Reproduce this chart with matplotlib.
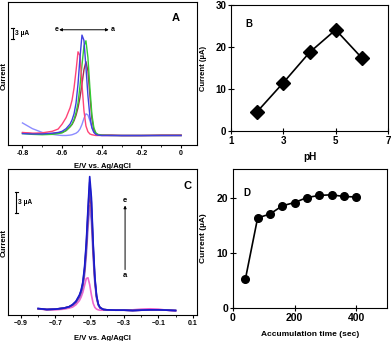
import matplotlib
matplotlib.use("Agg")
import matplotlib.pyplot as plt
from matplotlib.ticker import MultipleLocator

plt.rcParams['font.family'] = ['Liberation Sans', 'DejaVu Sans']
plt.rcParams['font.weight'] = 'bold'
plt.rcParams['axes.labelweight'] = 'bold'

# ---- panel A: DPV curves at different pH (uA) ----
E_a = [-0.80, -0.75, -0.70, -0.65, -0.62, -0.60, -0.58, -0.56, -0.55, -0.54,
       -0.53, -0.52, -0.51, -0.50, -0.49, -0.48, -0.47, -0.46, -0.45, -0.44,
       -0.43, -0.42, -0.40, -0.35, -0.30, -0.20, -0.10, 0.00]
a_curve_a = [5.8, 4.3, 3.3, 2.8, 2.6, 2.5, 2.5, 2.6, 2.7, 2.9,
             3.1, 3.5, 4.2, 5.4, 7.0, 8.2, 7.9, 6.4, 4.7, 3.5,
             2.9, 2.6, 2.5, 2.5, 2.4, 2.4, 2.5, 2.5]
a_curve_b = [3.2, 3.0, 2.9, 3.0, 3.2, 3.3, 3.8, 4.8, 5.4, 6.4,
             7.8, 9.8, 12.5, 16.0, 19.8, 21.9, 19.5, 13.0, 7.0, 4.0,
             3.0, 2.7, 2.6, 2.6, 2.5, 2.5, 2.6, 2.6]
a_curve_c = [3.0, 2.8, 2.7, 2.8, 3.0, 3.2, 3.8, 4.8, 5.5, 6.7,
             8.5, 11.0, 15.5, 21.0, 26.0, 27.4, 23.0, 15.0, 8.0, 4.5,
             3.2, 2.8, 2.6, 2.5, 2.5, 2.5, 2.5, 2.5]
a_curve_d = [3.3, 3.1, 3.2, 3.6, 4.2, 5.5, 7.2, 9.8, 11.8, 15.0,
             19.5, 24.5, 23.5, 16.0, 9.0, 5.0, 3.5, 2.9, 2.7, 2.6,
             2.5, 2.5, 2.5, 2.5, 2.5, 2.5, 2.5, 2.5]
a_curve_e = [3.0, 2.9, 2.9, 3.1, 3.3, 3.6, 4.3, 5.5, 6.6, 8.2,
             11.0, 16.0, 23.0, 28.9, 27.5, 20.5, 13.0, 7.5, 4.5, 3.3,
             2.8, 2.6, 2.5, 2.5, 2.5, 2.5, 2.5, 2.5]
a_colors = ['#8c8cff', '#a0304a', '#33cc33', '#ff4477', '#4040e0']

# ---- panel B: peak current vs pH ----
ph = [2, 3, 4, 5, 6]
ph_current = [4.6, 11.5, 18.7, 24.1, 17.4]

# ---- panel C: DPV curves at different accumulation times (uA) ----
E_c = [-0.80, -0.75, -0.70, -0.65, -0.62, -0.60, -0.58, -0.56, -0.55, -0.54,
       -0.53, -0.52, -0.51, -0.50, -0.49, -0.48, -0.47, -0.46, -0.45, -0.44,
       -0.42, -0.40, -0.35, -0.30, -0.25, -0.20, -0.15, -0.10, -0.05, 0.00]
c_curve_a = [0.9, 0.75, 0.75, 0.85, 1.0, 1.15, 1.5, 2.1, 2.6, 3.3,
             4.3, 5.3, 5.4, 4.4, 2.9, 1.7, 1.1, 0.85, 0.75, 0.7,
             0.7, 0.7, 0.7, 0.72, 0.75, 0.85, 0.9, 0.85, 0.7, 0.6]
c_curve_b = [0.9, 0.8, 0.85, 1.0, 1.15, 1.4, 1.8, 2.5, 3.1, 4.0,
             5.8, 8.6, 12.6, 15.9, 13.5, 8.4, 4.5, 2.4, 1.4, 1.0,
             0.8, 0.75, 0.7, 0.7, 0.65, 0.7, 0.75, 0.75, 0.7, 0.65]
c_curve_c = [0.9, 0.8, 0.85, 1.0, 1.2, 1.45, 1.9, 2.7, 3.4, 4.4,
             6.4, 9.6, 14.2, 18.1, 15.3, 9.5, 5.0, 2.6, 1.5, 1.05,
             0.8, 0.75, 0.7, 0.7, 0.65, 0.7, 0.75, 0.75, 0.7, 0.65]
c_curve_d = [0.92, 0.8, 0.85, 1.0, 1.2, 1.5, 1.95, 2.8, 3.5, 4.6,
             6.7, 10.1, 15.0, 19.3, 16.3, 10.1, 5.3, 2.7, 1.55, 1.08,
             0.8, 0.75, 0.7, 0.7, 0.65, 0.7, 0.75, 0.75, 0.7, 0.65]
c_curve_e = [0.95, 0.8, 0.85, 1.0, 1.2, 1.5, 2.0, 2.9, 3.6, 4.8,
             7.0, 10.5, 15.5, 20.1, 17.0, 10.5, 5.5, 2.8, 1.6, 1.1,
             0.8, 0.75, 0.7, 0.7, 0.65, 0.7, 0.75, 0.75, 0.7, 0.65]
c_colors = ['#ee66cc', '#9a7ae0', '#a03050', '#5050c8', '#1a1acc']

# ---- panel D: peak current vs accumulation time ----
acc_time = [40, 80, 120, 160, 200, 240, 280, 320, 360, 400]
acc_current = [5.2, 16.4, 17.1, 18.6, 19.2, 20.1, 20.5, 20.6, 20.3, 20.2]

W, H = 392, 341
fig = plt.figure(figsize=(W / 100, H / 100), dpi=100)


def box(l, t, r, b):
    return [l / W, (H - b) / H, (r - l) / W, (b - t) / H]


axA = fig.add_axes(box(8, 2, 197, 145))
axB = fig.add_axes(box(231, 5, 388, 131))
axC = fig.add_axes(box(8, 169, 197, 315))
axD = fig.add_axes(box(233, 169, 387, 308))

# panel A
for ys, col in zip([a_curve_a, a_curve_b, a_curve_c, a_curve_d, a_curve_e], a_colors):
    axA.plot(E_a, ys, color=col, lw=1.0)
axA.set_xlim(-0.873, 0.08)
axA.set_ylim(0, 37.6)
axA.set_yticks([])
axA.xaxis.set_minor_locator(MultipleLocator(0.1))
axA.set_xticks([-0.8, -0.6, -0.4, -0.2, 0], ['-0.8', '-0.6', '-0.4', '-0.2', '0'])
axA.tick_params(axis='x', labelsize=5, length=2, pad=1.5)
axA.tick_params(axis='x', which='minor', length=1.5)
axA.set_xlabel('E/V vs. Ag/AgCl', fontsize=5.5)
axA.xaxis.set_label_coords(0.5, -0.125)
axA.set_ylabel('Current', fontsize=5.6)
axA.yaxis.set_label_coords(0.0, 0.48)
axA.text(-0.026, 33.5, 'A', fontsize=8, fontweight='bold', ha='center', va='center')
axA.plot([-0.85, -0.85], [27.8, 30.7], color='k', lw=0.8)
axA.plot([-0.856, -0.844], [27.8, 27.8], color='k', lw=0.8)
axA.plot([-0.856, -0.844], [30.7, 30.7], color='k', lw=0.8)
axA.text(-0.838, 29.2, '3 µA', fontsize=4.8, va='center')
axA.annotate('', xy=(-0.615, 30.3), xytext=(-0.365, 30.3),
             arrowprops=dict(arrowstyle='<|-|>', color='k', lw=0.7,
                             mutation_scale=4, shrinkA=0, shrinkB=0))
axA.text(-0.627, 30.3, 'e', fontsize=5, ha='center', va='center')
axA.text(-0.345, 30.3, 'a', fontsize=5, ha='center', va='center')

# panel B
axB.plot(ph, ph_current, color='k', lw=1.2, marker='D', ms=7.5, mfc='k', mec='k')
axB.set_xlim(1, 7)
axB.set_ylim(0, 30)
axB.set_xticks([1, 3, 5, 7])
axB.set_yticks([0, 10, 20, 30])
axB.tick_params(labelsize=7, direction='inout', length=4, width=0.8, pad=1.5)
axB.set_xlabel('pH', fontsize=7.2)
axB.xaxis.set_label_coords(0.5, -0.165)
axB.set_ylabel('Current (µA)', fontsize=5.5)
axB.yaxis.set_label_coords(-0.15, 0.5)
axB.text(1.7, 25.5, 'B', fontsize=7, fontweight='bold', ha='center', va='center')

# panel C
for ys, col in zip([c_curve_a, c_curve_b, c_curve_c, c_curve_d, c_curve_e], c_colors):
    axC.plot(E_c, ys, color=col, lw=1.2)
axC.set_xlim(-0.976, 0.125)
axC.set_ylim(0, 21.2)
axC.set_yticks([])
axC.set_xticks([-0.9, -0.7, -0.5, -0.3, -0.1, 0.1])
axC.set_xticks([-0.8, -0.6, -0.4, -0.2, 0.0], minor=True)
axC.tick_params(axis='x', labelsize=5, length=2, pad=1.5)
axC.tick_params(axis='x', which='minor', length=1.5)
axC.set_xlabel('E/V vs. Ag/AgCl', fontsize=5.5)
axC.xaxis.set_label_coords(0.5, -0.135)
axC.set_ylabel('Current', fontsize=5.6)
axC.yaxis.set_label_coords(0.0, 0.49)
axC.text(0.07, 18.8, 'C', fontsize=8, fontweight='bold', ha='center', va='center')
axC.plot([-0.927, -0.927], [14.8, 17.8], color='k', lw=0.8)
axC.plot([-0.934, -0.920], [14.8, 14.8], color='k', lw=0.8)
axC.plot([-0.934, -0.920], [17.8, 17.8], color='k', lw=0.8)
axC.text(-0.915, 16.3, '3 µA', fontsize=4.8, va='center')
axC.annotate('', xy=(-0.294, 15.9), xytext=(-0.294, 6.6),
             arrowprops=dict(arrowstyle='-|>', color='k', lw=0.7,
                             mutation_scale=4, shrinkA=0, shrinkB=0))
axC.text(-0.294, 16.6, 'e', fontsize=5.5, ha='center', va='center')
axC.text(-0.294, 5.8, 'a', fontsize=5.5, ha='center', va='center')

# panel D
axD.plot(acc_time, acc_current, color='k', lw=1.2, marker='o', ms=5.5, mfc='k', mec='k')
axD.set_xlim(0, 500)
axD.set_ylim(0, 25.3)
axD.set_xticks([0, 200, 400])
axD.set_yticks([0, 10, 20])
axD.tick_params(labelsize=7.5, direction='inout', length=4, width=0.8, pad=1.5)
axD.set_xlabel('Accumulation time (sec)', fontsize=6)
axD.xaxis.set_label_coords(0.5, -0.165)
axD.set_ylabel('Current (µA)', fontsize=6)
axD.yaxis.set_label_coords(-0.17, 0.5)
axD.text(45, 21.0, 'D', fontsize=7, fontweight='bold', ha='center', va='center')

for ax in (axA, axB, axC, axD):
    for sp in ax.spines.values():
        sp.set_linewidth(0.8)

fig.savefig('out.png', dpi=100)
